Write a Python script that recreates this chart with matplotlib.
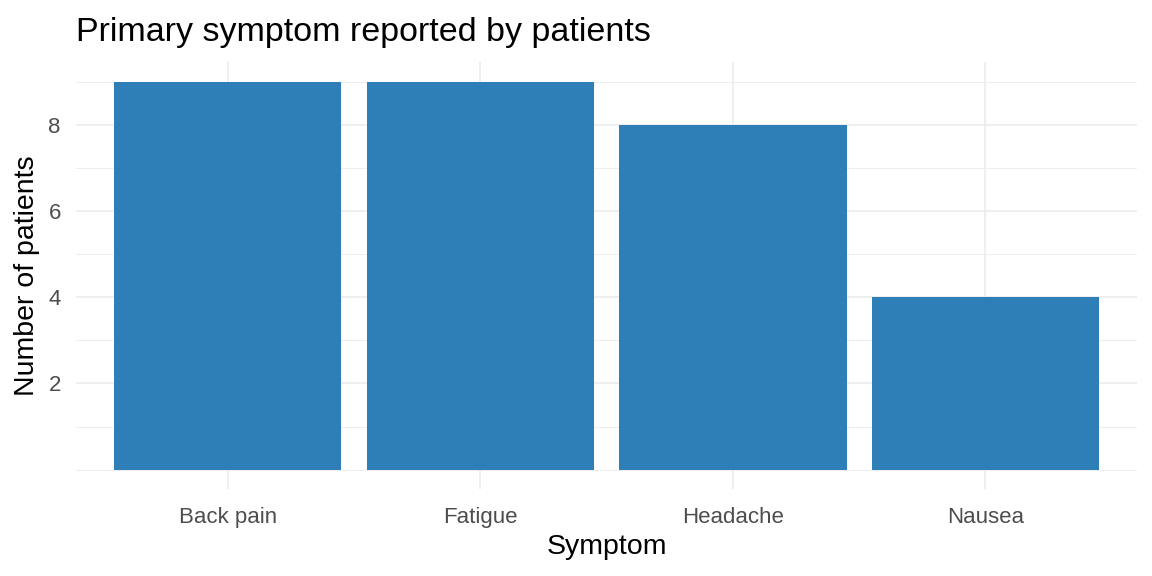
import matplotlib.pyplot as plt
import numpy as np

# data
symptoms = ['Back pain', 'Fatigue', 'Headache', 'Nausea']
patients = [9, 9, 8, 4]

plt.rcParams['font.family'] = ['Liberation Sans', 'DejaVu Sans']

fig, ax = plt.subplots(figsize=(11.52, 5.76), dpi=100)
fig.subplots_adjust(left=0.066, right=0.987, top=0.892, bottom=0.151)

x = np.arange(1, len(symptoms) + 1)

# grid (ggplot theme_minimal look)
for yv in np.arange(0, 10):
    lw = 1.1 if yv in (2, 4, 6, 8) else 0.6
    ax.axhline(yv, color='#EBEBEB', lw=lw, zorder=0)
for xv in x:
    ax.axvline(xv, color='#EBEBEB', lw=1.1, zorder=0)

ax.bar(x, patients, width=0.9, color='#2E7FB8', zorder=2)

ax.set_xlim(0.4, len(symptoms) + 0.6)
ax.set_ylim(-0.45, 9.45)
ax.set_xticks(x)
ax.set_xticklabels(symptoms)
ax.set_yticks([2, 4, 6, 8])
ax.tick_params(axis='both', length=0, labelsize=16, labelcolor='#4D4D4D')
ax.tick_params(axis='x', pad=13)
ax.tick_params(axis='y', pad=11)
for s in ax.spines.values():
    s.set_visible(False)

ax.set_xlabel('Symptom', fontsize=20.5, labelpad=4)
ax.set_ylabel('Number of patients', fontsize=20.5, labelpad=6)
ax.set_title('Primary symptom reported by patients', fontsize=24.5, loc='left', pad=15)

fig.savefig('out.png', dpi=100)
